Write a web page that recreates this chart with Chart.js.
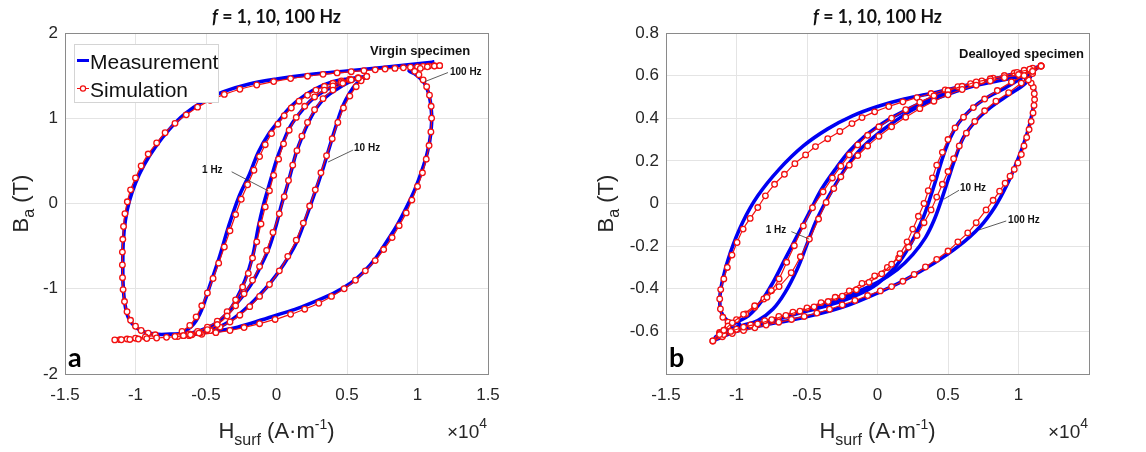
<!DOCTYPE html>
<html>
<head>
<meta charset="utf-8">
<script src="https://cdn.jsdelivr.net/npm/chart.js@4/dist/chart.umd.min.js"></script>
<style>
  html, body { margin: 0; padding: 0; background: #fff; }
  #wrap { position: relative; width: 1146px; height: 452px; }
  .panel { position: absolute; top: 0; width: 573px; height: 452px; }
</style>
</head>
<body>
<div id="wrap">
  <div class="panel" style="left:0"><canvas id="chartA" width="573" height="452"></canvas></div>
  <div class="panel" style="left:573px"><canvas id="chartB" width="573" height="452"></canvas></div>
</div>
<script>
// [H (x1e4 A/m), B (T)], each loop traced once round

// --- panel a : virgin specimen ---
const virgin1HzMeas = [[0.58,1.47],[0.48,1.42],[0.415,1.387],[0.33,1.31],[0.245,1.21],[0.16,1.05],[0.096,0.9],[0.043,0.7],[0.0,0.51],[-0.032,0.33],[-0.064,0.15],[-0.096,-0.04],[-0.128,-0.27],[-0.17,-0.625],[-0.223,-0.9],[-0.287,-1.13],[-0.351,-1.29],[-0.436,-1.41],[-0.543,-1.49],[-0.66,-1.55],
  [-0.57,-1.53],[-0.457,-1.44],[-0.351,-1.3],[-0.266,-1.14],[-0.181,-0.95],[-0.117,-0.75],[-0.053,-0.52],[0.0,-0.24],[0.038,0.0],[0.074,0.195],[0.106,0.39],[0.138,0.586],[0.181,0.78],[0.234,0.977],[0.287,1.13],[0.351,1.25],[0.436,1.35],[0.51,1.42],[0.58,1.47]];
const virgin1HzSim = [[0.58,1.47],[0.52,1.45],[0.46,1.42],[0.4,1.38],[0.34,1.33],[0.27,1.25],[0.2,1.14],[0.14,1.01],[0.09,0.86],[0.05,0.7],[0.015,0.52],[-0.02,0.33],[-0.05,0.15],[-0.08,-0.04],[-0.11,-0.24],[-0.14,-0.45],[-0.17,-0.64],[-0.2,-0.82],[-0.24,-0.98],[-0.29,-1.13],[-0.35,-1.27],[-0.42,-1.38],[-0.49,-1.45],[-0.56,-1.5],[-0.62,-1.53],[-0.66,-1.55],
  [-0.61,-1.54],[-0.55,-1.52],[-0.49,-1.48],[-0.42,-1.42],[-0.35,-1.32],[-0.29,-1.2],[-0.23,-1.06],[-0.17,-0.9],[-0.12,-0.74],[-0.07,-0.55],[-0.025,-0.34],[0.02,-0.12],[0.055,0.08],[0.085,0.27],[0.115,0.45],[0.145,0.62],[0.18,0.79],[0.22,0.95],[0.27,1.1],[0.33,1.23],[0.4,1.33],[0.47,1.41],[0.53,1.45],[0.58,1.47]];

const virgin10HzMeas = [[0.64,1.49],[0.5,1.46],[0.394,1.426],[0.309,1.37],[0.202,1.27],[0.096,1.13],[0.021,0.977],[-0.053,0.82],[-0.128,0.605],[-0.19,0.35],[-0.266,0.08],[-0.34,-0.27],[-0.404,-0.625],[-0.468,-0.94],[-0.532,-1.25],[-0.585,-1.41],[-0.65,-1.5],[-0.72,-1.56],
  [-0.6,-1.535],[-0.48,-1.49],[-0.372,-1.42],[-0.266,-1.3],[-0.16,-1.14],[-0.053,-0.95],[0.053,-0.71],[0.138,-0.47],[0.202,-0.2],[0.245,0.0],[0.285,0.19],[0.33,0.41],[0.383,0.7],[0.426,0.93],[0.47,1.14],[0.52,1.3],[0.57,1.41],[0.64,1.49]];
const virgin10HzSim = [[0.64,1.49],[0.58,1.475],[0.52,1.458],[0.46,1.437],[0.4,1.41],[0.34,1.375],[0.28,1.33],[0.22,1.27],[0.16,1.2],[0.105,1.12],[0.055,1.03],[0.01,0.93],[-0.035,0.82],[-0.08,0.69],[-0.12,0.55],[-0.16,0.39],[-0.205,0.22],[-0.25,0.05],[-0.29,-0.13],[-0.33,-0.32],[-0.37,-0.51],[-0.41,-0.7],[-0.45,-0.88],[-0.49,-1.05],[-0.53,-1.2],[-0.57,-1.33],[-0.615,-1.43],[-0.67,-1.5],[-0.72,-1.56],
  [-0.66,-1.55],[-0.6,-1.54],[-0.54,-1.52],[-0.47,-1.49],[-0.4,-1.45],[-0.33,-1.39],[-0.26,-1.31],[-0.19,-1.21],[-0.12,-1.09],[-0.05,-0.95],[0.02,-0.79],[0.08,-0.62],[0.14,-0.43],[0.19,-0.23],[0.235,-0.03],[0.275,0.16],[0.315,0.36],[0.355,0.56],[0.395,0.76],[0.435,0.95],[0.475,1.12],[0.52,1.26],[0.565,1.37],[0.6,1.44],[0.64,1.49]];

const virgin100HzMeas = [[1.12,1.66],[0.95,1.63],[0.75,1.595],[0.5,1.555],[0.25,1.515],[0.0,1.46],[-0.2,1.4],[-0.38,1.31],[-0.52,1.2],[-0.65,1.05],[-0.76,0.87],[-0.86,0.66],[-0.94,0.45],[-1.0,0.24],[-1.045,0.02],[-1.072,-0.2],[-1.087,-0.45],[-1.09,-0.7],[-1.088,-0.95],[-1.075,-1.18],[-1.05,-1.34],[-1.0,-1.45],[-0.93,-1.51],[-0.84,-1.535],[-0.72,-1.53],
  [-0.6,-1.52],[-0.45,-1.5],[-0.3,-1.46],[-0.15,-1.39],[0.0,-1.31],[0.15,-1.23],[0.3,-1.13],[0.42,-1.04],[0.53,-0.93],[0.62,-0.8],[0.7,-0.65],[0.78,-0.45],[0.85,-0.27],[0.92,-0.05],[0.98,0.16],[1.03,0.38],[1.07,0.6],[1.095,0.83],[1.1,1.05],[1.085,1.25],[1.05,1.41],[0.99,1.51],[0.94,1.56],[1.02,1.61],[1.12,1.66]];
const virgin100HzSim = [[1.157,1.617],[1.12,1.615],[1.08,1.612],[1.04,1.608],[1.0,1.603],[0.95,1.598],[0.9,1.592],[0.84,1.585],[0.77,1.577],[0.7,1.568],[0.62,1.558],[0.53,1.546],[0.43,1.532],[0.33,1.515],[0.22,1.493],[0.1,1.465],[-0.02,1.43],[-0.14,1.39],[-0.26,1.34],[-0.37,1.28],[-0.47,1.21],[-0.56,1.13],[-0.64,1.04],[-0.72,0.94],[-0.79,0.83],[-0.85,0.71],[-0.91,0.58],[-0.96,0.44],[-1.0,0.3],[-1.035,0.16],[-1.058,0.02],[-1.075,-0.12],[-1.085,-0.27],[-1.09,-0.42],[-1.093,-0.57],[-1.093,-0.72],[-1.092,-0.87],[-1.088,-1.01],[-1.078,-1.15],[-1.06,-1.27],[-1.035,-1.37],[-1.0,-1.44],[-0.96,-1.49],[-0.91,-1.52],[-0.86,-1.54],[-0.93,-1.565],[-1.0,-1.58],[-1.06,-1.59],[-1.11,-1.597],[-1.147,-1.6],
  [-1.1,-1.598],[-1.04,-1.595],[-0.98,-1.59],[-0.92,-1.585],[-0.85,-1.578],[-0.78,-1.57],[-0.7,-1.56],[-0.62,-1.55],[-0.53,-1.535],[-0.43,-1.515],[-0.33,-1.49],[-0.23,-1.455],[-0.12,-1.41],[-0.01,-1.36],[0.1,-1.3],[0.2,-1.24],[0.3,-1.17],[0.39,-1.09],[0.48,-1.0],[0.56,-0.9],[0.63,-0.79],[0.7,-0.67],[0.76,-0.54],[0.82,-0.4],[0.87,-0.26],[0.92,-0.11],[0.96,0.04],[1.0,0.2],[1.035,0.36],[1.062,0.52],[1.082,0.68],[1.095,0.84],[1.1,1.0],[1.097,1.14],[1.085,1.27],[1.065,1.37],[1.04,1.45],[1.01,1.51],[0.98,1.55],[1.02,1.585],[1.07,1.603],[1.12,1.612],[1.157,1.617]];

// --- panel b : dealloyed specimen ---
const dealloyed1HzMeas = [[1.05,0.6],[0.85,0.575],[0.65,0.545],[0.45,0.5],[0.25,0.44],[0.1,0.375],[-0.02,0.315],[-0.12,0.255],[-0.2,0.19],[-0.27,0.12],[-0.353,0.025],[-0.44,-0.089],[-0.504,-0.198],[-0.569,-0.307],[-0.655,-0.417],[-0.741,-0.495],[-0.849,-0.549],[-0.957,-0.572],[-1.05,-0.59],[-1.12,-0.61],
  [-0.95,-0.585],[-0.75,-0.55],[-0.5,-0.505],[-0.243,-0.455],[-0.03,-0.39],[0.123,-0.3],[0.209,-0.22],[0.274,-0.14],[0.328,-0.06],[0.37,0.02],[0.414,0.11],[0.457,0.205],[0.51,0.3],[0.575,0.378],[0.66,0.44],[0.77,0.495],[0.9,0.54],[1.05,0.6]];
const dealloyed1HzSim = [[1.1,0.62],[1.0,0.605],[0.9,0.59],[0.8,0.575],[0.7,0.555],[0.6,0.535],[0.5,0.51],[0.4,0.48],[0.3,0.445],[0.2,0.405],[0.1,0.36],[0.01,0.315],[-0.07,0.27],[-0.14,0.225],[-0.2,0.18],[-0.26,0.125],[-0.31,0.07],[-0.364,0.005],[-0.418,-0.073],[-0.483,-0.167],[-0.547,-0.25],[-0.612,-0.325],[-0.698,-0.39],[-0.784,-0.44],[-0.871,-0.48],[-0.95,-0.52],[-1.03,-0.56],[-1.09,-0.595],[-1.12,-0.615],
  [-1.04,-0.6],[-0.95,-0.58],[-0.85,-0.565],[-0.75,-0.545],[-0.65,-0.525],[-0.55,-0.505],[-0.45,-0.485],[-0.35,-0.46],[-0.25,-0.435],[-0.15,-0.405],[-0.06,-0.37],[0.03,-0.33],[0.1,-0.285],[0.16,-0.235],[0.21,-0.18],[0.25,-0.12],[0.29,-0.06],[0.33,0.0],[0.36,0.06],[0.39,0.12],[0.42,0.18],[0.46,0.24],[0.5,0.3],[0.55,0.355],[0.61,0.405],[0.68,0.45],[0.76,0.49],[0.85,0.53],[0.95,0.57],[1.04,0.6],[1.1,0.62]];

const dealloyed10HzMeas = [[1.12,0.63],[0.9,0.595],[0.7,0.565],[0.5,0.525],[0.3,0.47],[0.12,0.41],[0.0,0.36],[-0.1,0.31],[-0.2,0.245],[-0.289,0.17],[-0.397,0.067],[-0.483,-0.042],[-0.569,-0.151],[-0.655,-0.26],[-0.741,-0.37],[-0.828,-0.463],[-0.914,-0.526],[-1.0,-0.557],[-1.08,-0.59],[-1.15,-0.63],
  [-1.0,-0.59],[-0.8,-0.555],[-0.6,-0.52],[-0.4,-0.475],[-0.2,-0.43],[0.0,-0.37],[0.14,-0.31],[0.25,-0.24],[0.34,-0.16],[0.4,-0.08],[0.45,0.01],[0.5,0.11],[0.55,0.21],[0.61,0.31],[0.7,0.39],[0.8,0.45],[0.93,0.51],[1.05,0.565],[1.12,0.63]];
const dealloyed10HzSim = [[1.16,0.645],[1.08,0.63],[0.99,0.615],[0.9,0.6],[0.8,0.585],[0.7,0.57],[0.6,0.55],[0.5,0.53],[0.4,0.505],[0.3,0.475],[0.2,0.44],[0.1,0.4],[0.01,0.36],[-0.07,0.32],[-0.14,0.275],[-0.2,0.228],[-0.26,0.175],[-0.32,0.12],[-0.386,0.055],[-0.461,-0.02],[-0.526,-0.105],[-0.59,-0.198],[-0.644,-0.276],[-0.698,-0.354],[-0.752,-0.409],[-0.806,-0.448],[-0.871,-0.487],[-0.935,-0.518],[-1.0,-0.545],[-1.06,-0.575],[-1.12,-0.61],[-1.168,-0.645],
  [-1.09,-0.615],[-1.0,-0.59],[-0.9,-0.57],[-0.8,-0.55],[-0.7,-0.53],[-0.6,-0.51],[-0.5,-0.49],[-0.4,-0.465],[-0.3,-0.44],[-0.2,-0.41],[-0.11,-0.375],[-0.02,-0.34],[0.07,-0.3],[0.15,-0.255],[0.22,-0.205],[0.28,-0.15],[0.33,-0.09],[0.38,-0.03],[0.42,0.03],[0.46,0.09],[0.5,0.15],[0.54,0.21],[0.58,0.27],[0.63,0.33],[0.69,0.385],[0.76,0.435],[0.84,0.48],[0.93,0.52],[1.02,0.565],[1.1,0.61],[1.16,0.645]];

const dealloyed100HzMeas = [[1.16,0.645],[1.0,0.615],[0.8,0.58],[0.6,0.55],[0.42,0.522],[0.19,0.49],[0.0,0.455],[-0.181,0.41],[-0.353,0.35],[-0.526,0.27],[-0.698,0.16],[-0.849,0.036],[-0.957,-0.089],[-1.043,-0.229],[-1.097,-0.354],[-1.119,-0.448],[-1.108,-0.51],[-1.065,-0.549],[-0.978,-0.565],[-1.06,-0.61],[-1.15,-0.64],
  [-1.0,-0.6],[-0.8,-0.57],[-0.6,-0.545],[-0.4,-0.515],[-0.2,-0.475],[0.0,-0.42],[0.19,-0.36],[0.4,-0.28],[0.575,-0.2],[0.726,-0.11],[0.834,-0.015],[0.92,0.09],[0.985,0.19],[1.039,0.284],[1.082,0.378],[1.11,0.472],[1.114,0.534],[1.093,0.566],[1.05,0.585],[1.1,0.62],[1.16,0.645]];
const dealloyed100HzSim = [[1.16,0.645],[1.1,0.635],[1.04,0.625],[0.97,0.612],[0.9,0.6],[0.82,0.588],[0.74,0.575],[0.66,0.562],[0.57,0.548],[0.48,0.533],[0.38,0.516],[0.28,0.497],[0.18,0.477],[0.08,0.455],[-0.02,0.43],[-0.11,0.403],[-0.181,0.375],[-0.267,0.338],[-0.353,0.304],[-0.44,0.267],[-0.51,0.228],[-0.586,0.187],[-0.66,0.137],[-0.73,0.09],[-0.795,0.036],[-0.849,-0.019],[-0.903,-0.07],[-0.953,-0.12],[-0.996,-0.183],[-1.032,-0.242],[-1.065,-0.3],[-1.09,-0.354],[-1.112,-0.404],[-1.119,-0.448],[-1.114,-0.495],[-1.097,-0.534],[-1.06,-0.557],[-1.12,-0.605],[-1.168,-0.645],
  [-1.1,-0.625],[-1.03,-0.61],[-0.95,-0.596],[-0.87,-0.583],[-0.79,-0.57],[-0.7,-0.557],[-0.61,-0.544],[-0.52,-0.53],[-0.43,-0.514],[-0.34,-0.496],[-0.25,-0.476],[-0.16,-0.455],[-0.07,-0.432],[0.02,-0.41],[0.1,-0.39],[0.18,-0.365],[0.26,-0.333],[0.34,-0.298],[0.42,-0.262],[0.5,-0.223],[0.57,-0.18],[0.64,-0.138],[0.7,-0.09],[0.77,-0.03],[0.82,0.015],[0.866,0.058],[0.905,0.095],[0.94,0.128],[0.97,0.16],[0.996,0.19],[1.02,0.23],[1.039,0.27],[1.058,0.31],[1.075,0.347],[1.09,0.385],[1.103,0.425],[1.11,0.46],[1.114,0.4875],[1.112,0.515],[1.105,0.545],[1.09,0.565],[1.07,0.58],[1.1,0.615],[1.16,0.645]];

// axis ticks
const xTicks = [-1.5, -1, -0.5, 0, 0.5, 1, 1.5];
const yTicksA = [-2, -1, 0, 1, 2];
const yTicksB = [-0.8, -0.6, -0.4, -0.2, 0, 0.2, 0.4, 0.6, 0.8];

const legendLabels = ['Measurement', 'Simulation'];

// annotation texts, anchored in data units: [text, H, B, size]
const notesA = [['Virgin specimen', 0.663, 1.78, 13], ['100 Hz', 1.23, 1.545, 10], ['10 Hz', 0.55, 0.65, 10], ['1 Hz', -0.528, 0.39, 10]];
const leadersA = [[1.216, 1.536, 1.053, 1.43], [0.543, 0.627, 0.365, 0.486], [-0.318, 0.372, -0.058, 0.148]];
const notesB = [['Dealloyed specimen', 0.578, 0.698, 13], ['10 Hz', 0.585, 0.071, 10], ['100 Hz', 0.926, -0.077, 10], ['1 Hz', -0.793, -0.126, 10]];
const leadersB = [[-0.611, -0.132, -0.484, -0.167], [0.578, 0.062, 0.47, 0.02], [0.913, -0.082, 0.72, -0.124]];

const BLUE = '#0000f2';
const RED = '#f21010';
const AX_FONT = '"Liberation Sans", Arial, sans-serif';
const BOLD_FONT = 'Lato, "Open Sans", sans-serif';
const TXT = '#262626';

const pts = arr => arr.map(([x, y]) => ({ x, y }));
const fmt = v => String(Math.round(v * 100) / 100);

function drawParts(ctx, parts, x, y, align, family, fitWidth) {
  // parts: [text, size, dy, style]
  let w = 0;
  const widths = parts.map(p => {
    ctx.font = `${p[3] || ''} ${p[1]}px ${family}`;
    const m = ctx.measureText(p[0]).width;
    w += m;
    return m;
  });
  let sx = 1;
  if (fitWidth && w > fitWidth) sx = fitWidth / w;
  ctx.save();
  ctx.translate(x, y);
  ctx.scale(sx, 1);
  let cx = align === 'center' ? -w / 2 : 0;
  ctx.textAlign = 'left';
  parts.forEach((p, i) => {
    ctx.font = `${p[3] || ''} ${p[1]}px ${family}`;
    ctx.fillText(p[0], cx, p[2] || 0);
    cx += widths[i];
  });
  ctx.restore();
}

function makeDecor(panel) {
  return {
    id: 'decor',
    afterDatasetsDraw(chart) {
      const { ctx, scales: { x, y } } = chart;
      ctx.save();
      ctx.strokeStyle = '#333';
      ctx.lineWidth = 0.8;
      panel.leaders.forEach(([x1, y1, x2, y2]) => {
        ctx.beginPath();
        ctx.moveTo(x.getPixelForValue(x1), y.getPixelForValue(y1));
        ctx.lineTo(x.getPixelForValue(x2), y.getPixelForValue(y2));
        ctx.stroke();
      });
      ctx.fillStyle = '#111';
      ctx.textBaseline = 'middle';
      ctx.textAlign = 'left';
      panel.notes.forEach(([t, hx, by, size]) => {
        ctx.font = `bold ${size}px ${AX_FONT}`;
        ctx.fillText(t, x.getPixelForValue(hx), y.getPixelForValue(by));
      });
      ctx.restore();
    },
    afterDraw(chart) {
      const { ctx, chartArea: a } = chart;
      ctx.save();
      // axes box
      ctx.strokeStyle = '#8a8a8a';
      ctx.lineWidth = 1;
      ctx.strokeRect(Math.round(a.left) + 0.5, Math.round(a.top) + 0.5, Math.round(a.right - a.left), Math.round(a.bottom - a.top));
      const cx = (a.left + a.right) / 2;

      // title
      ctx.fillStyle = '#111';
      ctx.textBaseline = 'alphabetic';
      drawParts(ctx, [['f', 18, 0, 'italic bold'], [' = 1, 10, 100 Hz', 18, 0, 'bold']], cx, 22.5, 'center', BOLD_FONT, 129);

      // x label and exponent
      ctx.fillStyle = TXT;
      drawParts(ctx, [['H', 22, 0], ['surf', 16, 7], [' (A\u00b7m', 22, 0], ['-1', 14, -9], [')', 22, 0]], cx, 438, 'center', AX_FONT);
      drawParts(ctx, [['\u00d710', 19, 0], ['4', 14, -10]], a.right - 41, 438, 'left', AX_FONT);

      // y label, rotated
      ctx.save();
      ctx.translate(panel.yLabelX, (a.top + a.bottom) / 2);
      ctx.rotate(-Math.PI / 2);
      drawParts(ctx, [['B', 22, 0], ['a', 16, 6], [' (T)', 22, 0]], 0, 0, 'center', AX_FONT);
      ctx.restore();

      // panel letter
      ctx.fillStyle = '#000';
      drawParts(ctx, [[panel.letter, 27, 0, 'bold']], a.left + 3, a.bottom - 7, 'left', BOLD_FONT);

      // legend box
      if (panel.legend) {
        const L = { x: 74, y: 44, w: 144, h: 58 };
        ctx.fillStyle = '#fff';
        ctx.fillRect(L.x, L.y, L.w, L.h);
        ctx.strokeStyle = '#d4d4d4';
        ctx.lineWidth = 1;
        ctx.strokeRect(L.x + 0.5, L.y + 0.5, L.w, L.h);
        ctx.strokeStyle = BLUE;
        ctx.lineWidth = 3;
        ctx.beginPath(); ctx.moveTo(77, 60.5); ctx.lineTo(89, 60.5); ctx.stroke();
        ctx.strokeStyle = RED;
        ctx.lineWidth = 1;
        ctx.beginPath(); ctx.moveTo(77, 88.5); ctx.lineTo(89, 88.5); ctx.stroke();
        ctx.fillStyle = '#fff';
        ctx.lineWidth = 1.2;
        ctx.beginPath(); ctx.arc(83, 88.5, 2.6, 0, Math.PI * 2); ctx.fill(); ctx.stroke();
        ctx.fillStyle = '#111';
        ctx.font = `21px ${AX_FONT}`;
        ctx.textAlign = 'left';
        ctx.fillText(legendLabels[0], 90, 68.5);
        ctx.fillText(legendLabels[1], 90, 96.5);
      }
      ctx.restore();
    }
  };
}

function buildChart(panel) {
  const datasets = [];
  panel.loops.forEach(([meas, sim]) => {
    datasets.push({
      label: legendLabels[0], data: pts(meas), showLine: true, order: 2,
      borderColor: BLUE, borderWidth: 3.6, pointRadius: 0, tension: 0.35, fill: false
    });
    datasets.push({
      label: legendLabels[1], data: pts(sim), showLine: true, order: 1,
      borderColor: RED, borderWidth: 1.2, tension: 0.3, fill: false,
      pointRadius: 2.8, pointBorderWidth: 1.3, pointBorderColor: RED, pointBackgroundColor: '#fff'
    });
  });

  const tickFont = { family: AX_FONT, size: 17 };
  new Chart(document.getElementById(panel.canvas), {
    type: 'scatter',
    data: { datasets },
    options: {
      responsive: false,
      animation: false,
      events: [],
      layout: { padding: { left: 0, right: panel.padRight, top: 33, bottom: 0 } },
      plugins: { legend: { display: false }, tooltip: { enabled: false }, title: { display: false } },
      scales: {
        x: {
          type: 'linear', min: xTicks[0], max: xTicks[xTicks.length - 1],
          afterBuildTicks: s => { s.ticks = xTicks.map(v => ({ value: v })); },
          afterFit: s => { s.height = 78; },
          ticks: {
            autoSkip: false, maxRotation: 0, padding: 11, color: TXT, font: tickFont,
            callback: v => (panel.hideX.includes(v) ? '' : fmt(v))
          },
          grid: { color: '#e4e4e4', drawTicks: false },
          border: { display: false }
        },
        y: {
          type: 'linear', min: panel.yTicks[0], max: panel.yTicks[panel.yTicks.length - 1],
          afterBuildTicks: s => { s.ticks = panel.yTicks.map(v => ({ value: v })); },
          afterFit: s => { s.width = panel.yWidth; },
          ticks: {
            autoSkip: false, padding: 7, color: TXT, font: tickFont,
            callback: v => (panel.hideY.includes(v) ? '' : fmt(v))
          },
          grid: { color: '#e4e4e4', drawTicks: false },
          border: { display: false }
        }
      }
    },
    plugins: [makeDecor(panel)]
  });
}

buildChart({
  canvas: 'chartA', letter: 'a', legend: true,
  loops: [[virgin1HzMeas, virgin1HzSim], [virgin10HzMeas, virgin10HzSim], [virgin100HzMeas, virgin100HzSim]],
  yTicks: yTicksA, hideX: [], hideY: [],
  yWidth: 65, padRight: 85, yLabelX: 28,
  notes: notesA, leaders: leadersA
});

buildChart({
  canvas: 'chartB', letter: 'b', legend: false,
  loops: [[dealloyed1HzMeas, dealloyed1HzSim], [dealloyed10HzMeas, dealloyed10HzSim], [dealloyed100HzMeas, dealloyed100HzSim]],
  yTicks: yTicksB, hideX: [1.5], hideY: [-0.8],
  yWidth: 93, padRight: 57, yLabelX: 40,
  notes: notesB, leaders: leadersB
});
</script>
</body>
</html>
